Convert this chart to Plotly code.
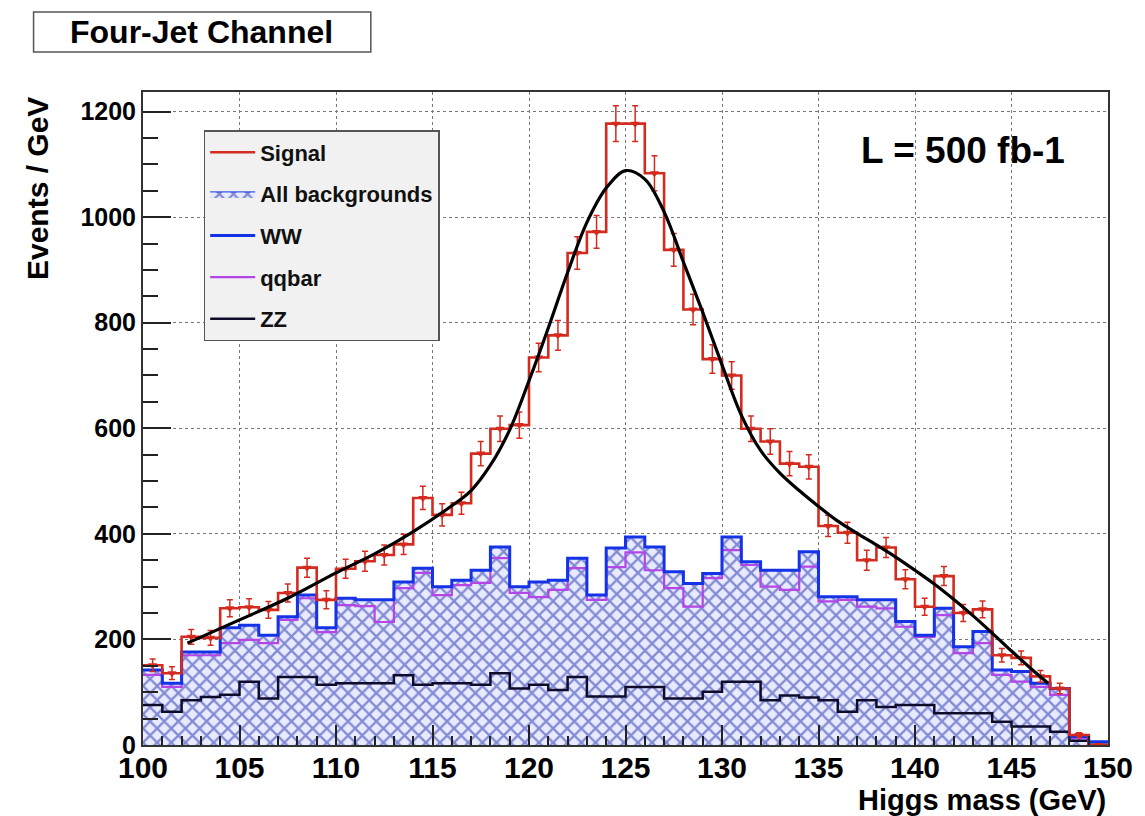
import numpy as np
import plotly.graph_objects as go

# Higgs mass bins: 1 GeV wide, from 100 to 150 GeV
bin_edges = list(range(100, 151))

# Signal + background expectation (events / GeV per bin)
signal_events = [151, 136, 205, 203, 259, 261, 256, 288, 336, 275,
                 334, 348, 360, 380, 468, 436, 458, 552, 599, 606,
                 734, 776, 932, 972, 1177, 1177, 1083, 938, 825, 731,
                 700, 599, 575, 533, 527, 415, 402, 350, 374, 314,
                 262, 320, 250, 257, 170, 165, 130, 107, 19, 0]
signal_errors = [12, 12, 14, 14, 16, 16, 16, 17, 18, 17,
                 18, 19, 19, 19, 22, 21, 21, 23, 24, 25,
                 27, 28, 31, 31, 34, 34, 33, 31, 29, 27,
                 26, 24, 24, 23, 23, 20, 20, 19, 19, 18,
                 16, 18, 16, 16, 13, 13, 11, 10, 4, 0]

# Background components
ww_events = [142, 117, 176, 176, 222, 227, 208, 243, 284, 222,
             278, 275, 275, 309, 335, 300, 312, 331, 375, 300,
             309, 312, 354, 284, 373, 394, 375, 328, 306, 325,
             394, 347, 331, 331, 366, 281, 281, 275, 275, 234,
             208, 259, 186, 215, 142, 139, 117, 107, 16, 6]
qqbar_events = [133, 110, 170, 170, 193, 199, 193, 237, 278, 214,
                265, 263, 233, 297, 326, 284, 303, 307, 354, 288,
                280, 294, 335, 275, 337, 365, 331, 297, 262, 316,
                369, 341, 300, 294, 338, 272, 275, 262, 259, 224,
                205, 246, 174, 193, 133, 120, 110, 95, 13, 0]
zz_events = [76, 63, 85, 91, 95, 120, 88, 129, 129, 114,
             117, 117, 117, 132, 114, 117, 117, 114, 136, 107,
             114, 104, 129, 92, 92, 110, 110, 88, 88, 101,
             120, 120, 85, 94, 90, 85, 63, 85, 72, 76,
             76, 60, 60, 60, 44, 35, 35, 25, 8, 0]
# Stacked total of all backgrounds (top of the hatched area)
all_bkg_events = ww_events

# Fitted signal + background curve
fit_mass = [102.3, 105.0, 107.6, 110.0, 112.0, 113.9, 115.8, 117.0, 118.0,
            119.0, 120.0, 121.0, 122.0, 123.0, 124.0, 125.0, 126.0, 127.0,
            128.0, 129.0, 130.0, 131.0, 132.0, 133.0, 134.0, 135.0, 136.0,
            137.0, 138.0, 139.0, 140.0, 141.0, 142.0, 143.0, 144.0, 145.0,
            146.0, 146.9]
fit_events = [193, 237, 280, 326, 362, 402, 448, 482, 530,
              597, 690, 790, 895, 990, 1055, 1088, 1072, 1010,
              915, 820, 720, 625, 558, 515, 482, 452, 424,
              401, 379, 356, 331, 305, 276, 245, 212, 178,
              145, 117]

bin_centers = [0.5 * (a + b) for a, b in zip(bin_edges[:-1], bin_edges[1:])]


def step(values):
    """Histogram outline: one y per bin edge, last bin repeated."""
    return list(values) + [values[-1]]


RED = "#d42b1e"
BLUE = "#1432e6"
PURPLE = "#b445e6"
ZZ_COLOR = "#0d0d2b"

fig = go.Figure()

# Hatched area for the sum of all backgrounds
fig.add_trace(go.Scatter(
    x=bin_edges, y=step(all_bkg_events), mode="lines", line_shape="hv",
    line=dict(color=BLUE, width=1), fill="tozeroy",
    fillpattern=dict(shape="x", fgcolor="#1a2aa8", bgcolor="#e8eaff",
                     size=10, solidity=0.4),
    name="All backgrounds", legendgroup="b", legendrank=2))

fig.add_trace(go.Scatter(
    x=bin_edges, y=step(qqbar_events), mode="lines", line_shape="hv",
    line=dict(color=PURPLE, width=2.2), name="qqbar", legendgroup="d",
    legendrank=4))

fig.add_trace(go.Scatter(
    x=bin_edges, y=step(zz_events), mode="lines", line_shape="hv",
    line=dict(color=ZZ_COLOR, width=2.5), name="ZZ", legendgroup="e",
    legendrank=5))

fig.add_trace(go.Scatter(
    x=bin_edges, y=step(ww_events), mode="lines", line_shape="hv",
    line=dict(color=BLUE, width=3), name="WW", legendgroup="c",
    legendrank=3))

fig.add_trace(go.Scatter(
    x=bin_edges, y=step(signal_events), mode="lines", line_shape="hv",
    line=dict(color=RED, width=2.6), name="Signal", legendgroup="a",
    legendrank=1))

fig.add_trace(go.Scatter(
    x=bin_centers, y=signal_events, mode="markers",
    marker=dict(symbol="triangle-down", size=8, color=RED),
    error_y=dict(type="data", array=signal_errors, color=RED,
                 thickness=1.5, width=3),
    showlegend=False))

fig.add_trace(go.Scatter(
    x=fit_mass, y=fit_events, mode="lines",
    line=dict(color="black", width=3.2, shape="spline", smoothing=1.0),
    showlegend=False))

FONT = "Liberation Sans"

fig.update_layout(
    width=1145, height=816,
    margin=dict(l=143, r=32, t=92, b=71),
    paper_bgcolor="white", plot_bgcolor="white",
    font=dict(family=FONT, color="black"),
    showlegend=True,
    legend=dict(
        x=(204 - 143) / 970, y=1 - (130 - 92) / 653,
        xanchor="left", yanchor="top",
        bgcolor="#f1f1f1", bordercolor="#555555", borderwidth=1.5,
        font=dict(family=FONT, size=22, color="#111111", weight="bold"),
        itemwidth=45, tracegroupgap=10, traceorder="grouped",
    ),
    xaxis=dict(
        range=[100, 150], tick0=100, dtick=5,
        ticks="inside", ticklen=20, tickwidth=1.5, tickcolor="#222",
        minor=dict(dtick=1, ticks="inside", ticklen=9, tickcolor="#222",
                   showgrid=False),
        showgrid=True, gridcolor="#777", griddash="dot", gridwidth=1,
        showline=True, linecolor="#333", linewidth=2, mirror=True,
        zeroline=False, ticklabelstandoff=-5,
        tickfont=dict(family=FONT, size=30, weight="bold"),
    ),
    yaxis=dict(
        range=[0, 1237], tick0=0, dtick=200,
        ticks="inside", ticklen=28, tickwidth=1.5, tickcolor="#222",
        minor=dict(dtick=50, ticks="inside", ticklen=15, tickcolor="#222",
                   showgrid=False),
        showgrid=True, gridcolor="#777", griddash="dot", gridwidth=1,
        showline=True, linecolor="#333", linewidth=2, mirror=True,
        zeroline=False,
        tickfont=dict(family=FONT, size=25, weight="bold"),
    ),
)

# Channel label in a framed box
fig.add_shape(type="rect", xref="paper", yref="paper",
              x0=(33 - 143) / 970, x1=(372 - 143) / 970,
              y0=1 + (92 - 52) / 653, y1=1 + (92 - 12) / 653,
              line=dict(color="#555", width=1.5), fillcolor="white")
fig.add_annotation(text="Four-Jet Channel", xref="paper", yref="paper",
                   x=(202 - 143) / 970, y=1 + (92 - 32) / 653,
                   xanchor="center", yanchor="middle", showarrow=False,
                   font=dict(family=FONT, size=32, weight="bold"))

# Luminosity label
fig.add_annotation(text="L = 500 fb-1", xref="paper", yref="paper",
                   x=(967 - 143) / 970, y=1 - (150 - 92) / 653,
                   xanchor="center", yanchor="middle", showarrow=False,
                   font=dict(family=FONT, size=37, weight="bold"))

# Axis titles
fig.add_annotation(text="Events / GeV", xref="paper", yref="paper",
                   x=(37 - 143) / 970, y=1 - (95 - 92) / 653,
                   xanchor="center", yanchor="top", textangle=-90,
                   showarrow=False,
                   font=dict(family=FONT, size=30, weight="bold"))
fig.add_annotation(text="Higgs mass (GeV)", xref="paper", yref="paper",
                   x=1.0, y=-(800 - 745) / 653,
                   xanchor="right", yanchor="middle", showarrow=False,
                   font=dict(family=FONT, size=29, weight="bold"))

fig.write_html("out.html")
